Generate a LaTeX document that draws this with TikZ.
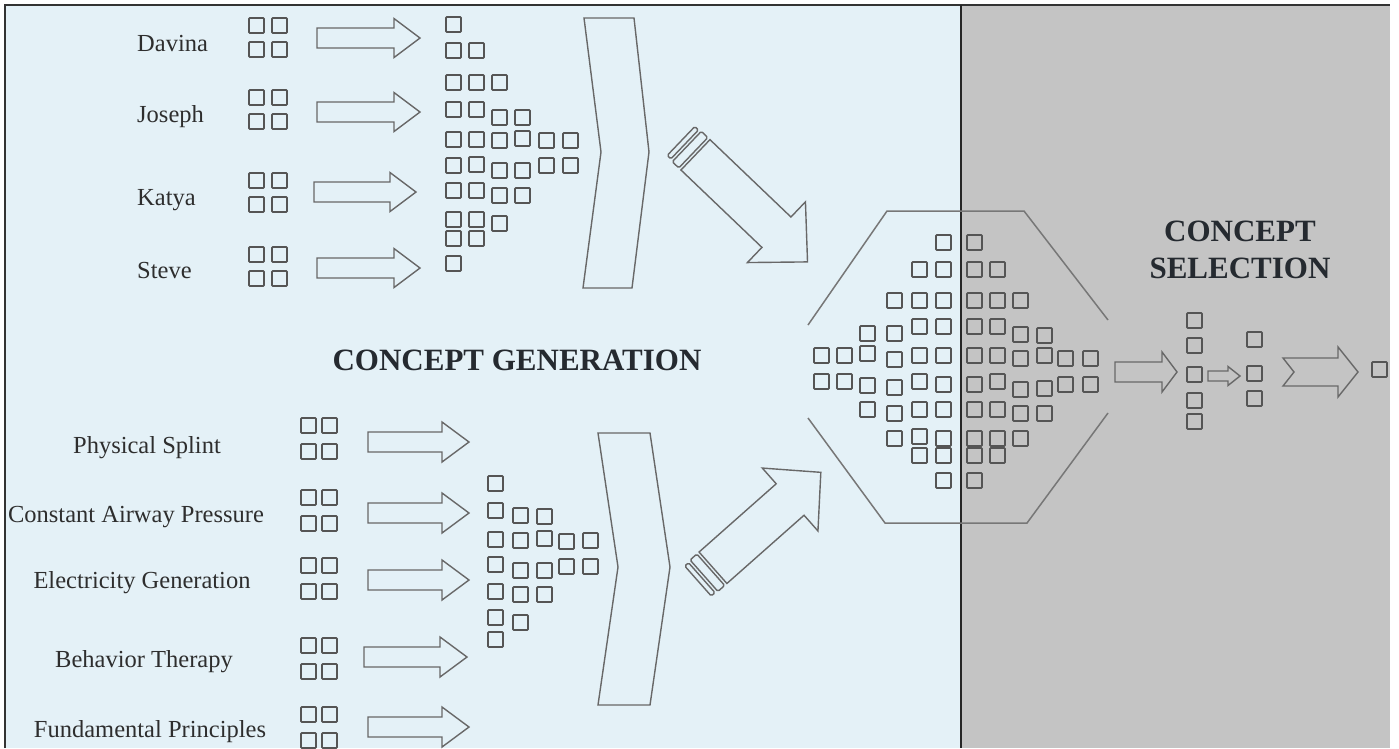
\documentclass[tikz,border=0pt]{standalone}
\usepackage{fontspec}
\setmainfont{Liberation Serif}
\definecolor{bgblue}{HTML}{E4F1F7}
\definecolor{bggray}{HTML}{C4C4C4}
\definecolor{sqc}{HTML}{555555}
\definecolor{arc}{HTML}{686868}
\definecolor{txt}{HTML}{2E2E2E}
\definecolor{ttl}{HTML}{252A30}
\tikzset{
  sqstyle/.style={draw=sqc, line width=1.7pt, rounded corners=0.8pt},
  arrstyle/.style={draw=arc, line width=1.4pt, line join=miter},
  hexstyle/.style={draw=arc!90, line width=1.5pt},
  namelbl/.style={anchor=base west, text=txt, inner sep=0pt, font=\fontsize{24.5}{28}\selectfont},
  toplbl/.style={anchor=base, text=txt, inner sep=0pt, font=\fontsize{24.5}{28}\selectfont},
  ttlstyle/.style={anchor=base, text=ttl, inner sep=0pt, font=\fontsize{31}{36}\selectfont\bfseries}
}
\newcommand{\sqbox}[2]{\draw[sqstyle] (#1,#2) rectangle ++(15,15);}
% x1, xb, x2, yc, hw, hh
\newcommand{\blockarrow}[6]{\draw[arrstyle] (#1,#4-#5) -- (#2,#4-#5) -- (#2,#4-#6) -- (#3,#4) -- (#2,#4+#6) -- (#2,#4+#5) -- (#1,#4+#5) -- cycle;}
% x, y, angle, L, head length
\newcommand{\stripedarrow}[5]{%
\begin{scope}[shift={(#1,#2)},rotate=#3]
\draw[arrstyle,rounded corners=1.5pt] (0,-20) rectangle (5,20);
\draw[arrstyle,rounded corners=1.5pt] (8,-21) rectangle (17,21);
\draw[arrstyle] (20,-21) -- (#4-#5,-21) -- (#4-#5,-42) -- (#4,0) -- (#4-#5,42) -- (#4-#5,21) -- (20,21) -- cycle;
\end{scope}}
\begin{document}
\begin{tikzpicture}[x=1pt,y=-1pt]
\useasboundingbox (0,0) rectangle (1399,748);
% backgrounds
\fill[bgblue] (5,5) rectangle (961,748);
\fill[bggray] (961,5) rectangle (1390,748);
\draw[black!80, line width=2pt] (5,748) -- (5,4.5) -- (1390,4.5);
\draw[black!85, line width=2pt] (961,5) -- (961,748);

% ---------- top group ----------
\node[namelbl] (davina) at (137,51) {Davina};
\node[namelbl] (joseph) at (137,122) {Joseph};
\node[namelbl] (katya) at (137,205) {Katya};
\node[namelbl] (steve) at (137,278) {Steve};
\foreach \y in {18,90,173,247}{
  \sqbox{249}{\y} \sqbox{272}{\y} \sqbox{249}{\y+24} \sqbox{272}{\y+24}
}
\blockarrow{317}{394}{420}{38}{10}{19.5}
\blockarrow{317}{394}{420}{112}{10}{19.5}
\blockarrow{314}{390}{416}{192}{10}{19.5}
\blockarrow{317}{394}{420}{268}{10}{19.5}
\foreach \x/\y in {446/17, 446/43,469/43, 446/75,469/75,492/75,
  446/102,469/102,492/110,515/110,
  446/132,469/132,492/133,515/131,539/133,563/133,
  446/158,469/157,492/163,515/163,539/158,563/158,
  446/183,469/183,492/188,515/188,
  446/212,469/212,492/216,
  446/231,469/231, 446/256}{\sqbox{\x}{\y}}
\draw[arrstyle] (584,18) -- (634,18) -- (649,152) -- (632,288) -- (583,288) -- (601,152) -- cycle;
\stripedarrow{681}{141}{-43.7}{175}{43}

% ---------- title ----------
\node[ttlstyle] (gen) at (517,370) {CONCEPT GENERATION};

% ---------- bottom group ----------
\node[toplbl] (splint) at (147,453) {Physical Splint};
\node[toplbl] (cap) at (136,522) {Constant Airway Pressure};
\node[toplbl] (elec) at (142,588) {Electricity Generation};
\node[toplbl] (beh) at (144,667) {Behavior Therapy};
\node[toplbl] (fund) at (150,737) {Fundamental Principles};
\foreach \y in {418,490,558,638,707}{
  \sqbox{301}{\y} \sqbox{322}{\y} \sqbox{301}{\y+26} \sqbox{322}{\y+26}
}
\blockarrow{368}{442}{469}{442}{10}{20}
\blockarrow{368}{442}{469}{513}{10}{20}
\blockarrow{368}{442}{469}{580}{10}{20}
\blockarrow{364}{440}{467}{657}{10}{20}
\blockarrow{368}{442}{469}{727}{10}{20}
\foreach \x/\y in {488/476, 488/503,513/508,537/509,
  488/532,513/533,537/531,559/534,583/533,
  488/557,513/563,537/563,559/559,583/559,
  488/584,513/587,537/587,
  488/610,513/615, 488/632}{\sqbox{\x}{\y}}
\draw[arrstyle] (598,433) -- (650,433) -- (670,567) -- (650,705) -- (598,705) -- (618,567) -- cycle;
\stripedarrow{698}{581}{41.5}{164}{41}

% ---------- merge hexagon ----------
\draw[hexstyle] (808,325) -- (887,211) -- (1024,211) -- (1108,320);
\draw[hexstyle] (808,418) -- (885,523) -- (1027,523) -- (1108,413);
\foreach \x/\y in {936/235,967/235,
  912/262,936/262,967/262,990/262,
  887/293,912/293,936/293,967/293,990/293,1013/293,
  860/326,887/326,912/319,936/319,967/319,990/319,1013/327,1037/328,
  814/348,837/348,860/346,887/352,912/348,936/348,967/348,990/348,1013/351,1037/348,1058/351,1083/351,
  814/374,837/374,860/378,887/380,912/374,936/377,967/377,990/374,1013/382,1037/381,1058/377,1083/377,
  860/402,887/406,912/402,936/402,967/402,990/402,1013/406,1037/406,
  887/431,912/429,936/431,967/431,990/431,1013/431,
  912/448,936/448,967/448,990/448,
  936/473,967/473}{\sqbox{\x}{\y}}

% ---------- selection ----------
\node[ttlstyle] (sel1) at (1240,241) {CONCEPT};
\node[ttlstyle] (sel2) at (1240,278) {SELECTION};
\blockarrow{1115}{1162}{1177}{372}{10}{20}
\foreach \y in {313,338,367,393,414}{\sqbox{1187}{\y}}
\blockarrow{1208}{1228}{1240}{376}{5}{9.5}
\foreach \y in {332,366,391}{\sqbox{1247}{\y}}
\draw[arrstyle] (1283,358) -- (1338,358) -- (1338,347) -- (1358,372) -- (1338,397) -- (1338,386) -- (1283,386) -- (1294,372) -- cycle;
\sqbox{1372}{362}
\end{tikzpicture}
\end{document}
